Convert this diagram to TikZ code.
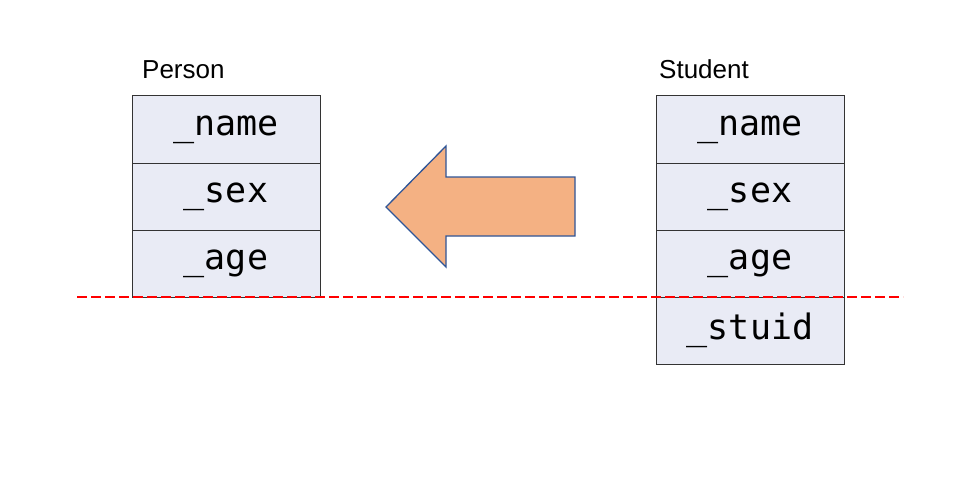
\documentclass[tikz,border=0pt]{standalone}
\usepackage{fontspec}
\setmainfont{Liberation Sans}
\setmonofont{DejaVu Sans Mono}
\usetikzlibrary{positioning}
\definecolor{cellfill}{HTML}{E9EBF5}
\definecolor{arrowfill}{HTML}{F4B183}
\definecolor{arrowline}{HTML}{2F5597}

\begin{document}
\begin{tikzpicture}[x=1pt,y=-1pt,
  cell/.style={draw=black!80, fill=cellfill, line width=1pt, minimum width=188pt,
    minimum height=67pt, inner sep=0pt, outer sep=0pt,
    font=\ttfamily\fontsize{35}{35}\selectfont},
  title/.style={anchor=base west, inner sep=0pt, font=\fontsize{26}{26}\selectfont}]
  \useasboundingbox (0,0) rectangle (967,487);
  % base class
  \node[title] (ptitle) at (142,78) {Person};
  \node[cell] (p1) at (226,129.5) {\raisebox{-3pt}{\_name}};
  \node[cell, below=0pt of p1] (p2) {\raisebox{-3pt}{\_sex}};
  \node[cell, below=0pt of p2] (p3) {\raisebox{-3pt}{\_age}};
  % derived class
  \node[title] (stitle) at (659,78) {Student};
  \node[cell] (s1) at (750,129.5) {\raisebox{-3pt}{\_name}};
  \node[cell, below=0pt of s1] (s2) {\raisebox{-3pt}{\_sex}};
  \node[cell, below=0pt of s2] (s3) {\raisebox{-3pt}{\_age}};
  \node[cell, below=0pt of s3] (s4) {\raisebox{-3pt}{\_stuid}};
  % inheritance arrow
  \draw[arrowline, fill=arrowfill, line width=1.3pt, line join=miter]
    (386,207) -- (446,146) -- (446,177) -- (575,177) -- (575,236)
    -- (446,236) -- (446,267) -- cycle;
  % boundary of the base part
  \coordinate (cutl) at (77,297);
  \coordinate (cutr) at (903,297);
  \draw[red, line width=2.5pt, dash pattern=on 10pt off 4pt] (cutl) -- (cutr);
\end{tikzpicture}
\end{document}
